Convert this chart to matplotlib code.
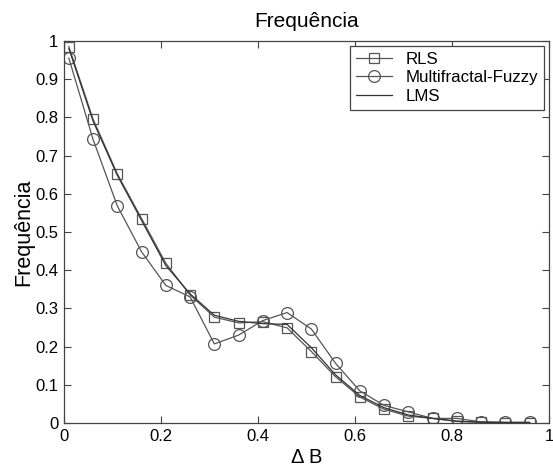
import matplotlib
matplotlib.use("Agg")
import matplotlib.pyplot as plt

plt.rcParams['font.family'] = ['Liberation Sans', 'DejaVu Sans']

delta_b = [0.01, 0.06, 0.11, 0.16, 0.21, 0.26, 0.31, 0.36, 0.41, 0.46,
           0.51, 0.56, 0.61, 0.66, 0.71, 0.76, 0.81, 0.86, 0.91, 0.96]
rls = [0.985, 0.795, 0.652, 0.535, 0.418, 0.335, 0.277, 0.262, 0.265, 0.249,
       0.187, 0.121, 0.068, 0.036, 0.018, 0.012, 0.004, 0.002, 0.001, 0.001]
fuzzy = [0.955, 0.742, 0.568, 0.448, 0.360, 0.330, 0.207, 0.230, 0.268, 0.289,
         0.246, 0.156, 0.084, 0.046, 0.029, 0.012, 0.012, 0.003, 0.002, 0.002]
lms = [0.980, 0.790, 0.648, 0.530, 0.412, 0.338, 0.282, 0.266, 0.260, 0.258,
       0.197, 0.126, 0.072, 0.040, 0.021, 0.012, 0.005, 0.002, 0.001, 0.001]

xticks = [0, 0.2, 0.4, 0.6, 0.8, 1]
xticklabels = ['0', '0.2', '0.4', '0.6', '0.8', '1']
yticks = [0, 0.1, 0.2, 0.3, 0.4, 0.5, 0.6, 0.7, 0.8, 0.9, 1]
yticklabels = ['0', '0.1', '0.2', '0.3', '0.4', '0.5', '0.6', '0.7', '0.8', '0.9', '1']

fig = plt.figure(figsize=(5.53, 4.66), dpi=100)
ax = fig.add_axes([0.1157, 0.0923, 0.877, 0.82])

c = '#555555'
ax.plot(delta_b, rls, color=c, lw=0.9, marker='s', ms=6.5, mfc='none', mec=c, mew=0.9, label='RLS')
ax.plot(delta_b, fuzzy, color=c, lw=0.9, marker='o', ms=8.5, mfc='none', mec=c, mew=0.9, label='Multifractal-Fuzzy')
ax.plot(delta_b, lms, color='#333333', lw=0.9, label='LMS')

ax.set_xlim(0, 1)
ax.set_ylim(0, 1)
ax.set_xticks(xticks)
ax.set_xticklabels(xticklabels)
ax.set_yticks(yticks)
ax.set_yticklabels(yticklabels)
ax.tick_params(direction='in', top=True, right=True, labelsize=12, length=5, color='#444444', pad=4)
for s in ax.spines.values():
    s.set_color('#444444')
    s.set_linewidth(0.9)

ax.set_title('Frequência', fontsize=15, pad=10)
ax.set_xlabel('Δ B', fontsize=14.5, labelpad=3)
ax.set_ylabel('Frequência', fontsize=15.5, labelpad=1)

leg = ax.legend(loc='upper right', fontsize=12.2, fancybox=False, edgecolor='#444444',
                framealpha=1, handlelength=2.1, borderaxespad=0.3, labelspacing=0.2,
                borderpad=0.35, handletextpad=0.8)
leg.get_frame().set_linewidth(0.9)

fig.savefig('out.png', dpi=100)
